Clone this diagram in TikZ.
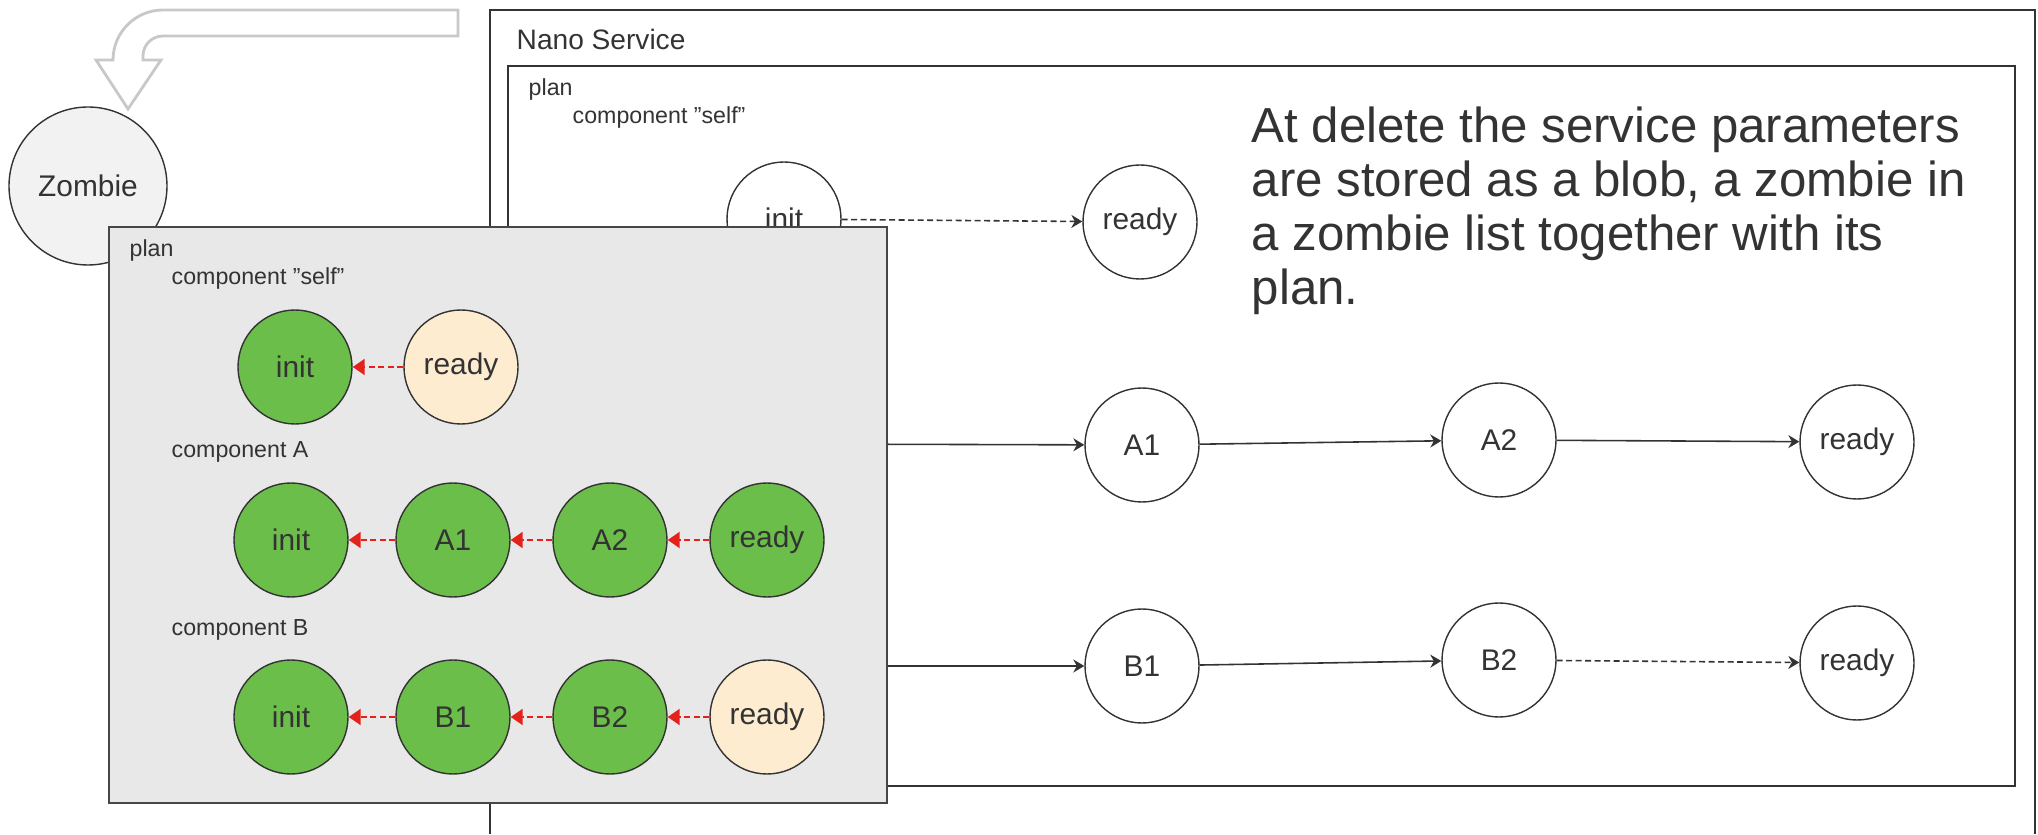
\documentclass[tikz,border=0pt]{standalone}
\usepackage{fontspec}
\setmainfont{Liberation Sans}
\usepackage{xcolor}
\usepackage{tikz}
\usetikzlibrary{shapes,arrows,positioning,calc,arrows.meta}

\definecolor{txtgray}{HTML}{333333}
\definecolor{donegreen}{HTML}{6CBE4A}
\definecolor{waitbeige}{HTML}{FDECD0}
\definecolor{zplanfill}{HTML}{E8E8E8}
\definecolor{zombiefill}{HTML}{F2F2F2}
\definecolor{hollowgray}{HTML}{C8C8C8}
\definecolor{revred}{HTML}{E3221B}

\begin{document}
\begin{tikzpicture}[
    font=\fontsize{8.5}{10}\selectfont, text=txtgray,
    state/.style={circle, draw=txtgray, line width=0.4pt, minimum size=1.14cm, inner sep=0pt, fill=white},
    donestate/.style={state, fill=donegreen},
    waitstate/.style={state, fill=waitbeige},
    planlabel/.style={anchor=west, inner sep=0pt, font=\fontsize{6.6}{8}\selectfont},
    fwd/.style={-{Stealth[length=1.1mm,width=1.3mm]}, line width=0.45pt, draw=txtgray},
    fwddash/.style={fwd, dash pattern=on 0.6mm off 0.35mm},
    back/.style={-{Triangle[length=1.2mm,width=1.6mm]}, draw=revred, line width=0.6pt, dash pattern=on 0.6mm off 0.35mm}
]
    \useasboundingbox (0,0) rectangle (20.38,8.34);

    % nano service
    \draw[txtgray, line width=0.6pt] (4.90,0) -- (4.90,8.24) -- (20.35,8.24) -- (20.35,0);
    \node[anchor=base west, inner sep=0pt, font=\fontsize{8}{10}\selectfont] (nstitle) at (5.16,7.84) {Nano Service};
    \draw[txtgray, line width=0.6pt] (5.08,0.48) rectangle (20.15,7.68);
    \node[planlabel] (nsplan) at (5.28,7.44) {plan};
    \node[planlabel] (nsself) at (5.72,7.16) {component ”self”};

    \node[state] (init) at (7.84,6.15) {init};
    \node[state] (ready) at (11.40,6.12) {ready};
    \node[state] (initA) at (7.84,3.90) {init};
    \node[state] (A1) at (11.42,3.89) {A1};
    \node[state] (A2) at (14.99,3.94) {A2};
    \node[state] (readyA) at (18.57,3.92) {ready};
    \node[state] (initB) at (7.84,1.68) {init};
    \node[state] (B1) at (11.42,1.68) {B1};
    \node[state] (B2) at (14.99,1.74) {B2};
    \node[state] (readyB) at (18.57,1.71) {ready};

    \draw[fwddash] (init) -- (ready);
    \draw[fwd] (initA) -- (A1);
    \draw[fwd] (A1) -- (A2);
    \draw[fwd] (A2) -- (readyA);
    \draw[fwd] (initB) -- (B1);
    \draw[fwd] (B1) -- (B2);
    \draw[fwddash] (B2) -- (readyB);

    \node[anchor=north west, align=left, inner sep=0pt, font=\fontsize{14}{15.4}\selectfont] (note) at (12.51,7.28)
        {At delete the service parameters\\are stored as a blob, a zombie in\\a zombie list together with its\\plan.};

    % zombie
    \draw[hollowgray, line width=0.8pt, fill=white] (4.58,8.24) -- (1.63,8.24) arc[start angle=90, end angle=180, radius=0.5]
        -- (0.96,7.74) -- (1.28,7.25) -- (1.61,7.74) -- (1.43,7.74) -- (1.43,7.78)
        arc[start angle=180, end angle=90, radius=0.2] -- (4.58,7.98) -- cycle;
    \node[circle, draw=txtgray, line width=0.4pt, fill=zombiefill, minimum size=1.58cm, inner sep=0pt] (zombie) at (0.88,6.48) {Zombie};

    \draw[draw=txtgray!90, line width=0.6pt, fill=zplanfill] (1.09,0.31) rectangle (8.87,6.07);
    \node[planlabel] (zplan) at (1.29,5.83) {plan};
    \node[planlabel] (zself) at (1.71,5.55) {component ”self”};
    \node[donestate] (zinit) at (2.95,4.67) {init};
    \node[waitstate] (zready) at (4.61,4.67) {ready};
    \node[planlabel] (zcompA) at (1.71,3.82) {component A};
    \node[donestate] (zinitA) at (2.91,2.94) {init};
    \node[donestate] (zA1) at (4.53,2.94) {A1};
    \node[donestate] (zA2) at (6.10,2.94) {A2};
    \node[donestate] (zreadyA) at (7.67,2.94) {ready};
    \node[planlabel] (zcompB) at (1.71,2.04) {component B};
    \node[donestate] (zinitB) at (2.91,1.17) {init};
    \node[donestate] (zB1) at (4.53,1.17) {B1};
    \node[donestate] (zB2) at (6.10,1.17) {B2};
    \node[waitstate] (zreadyB) at (7.67,1.17) {ready};

    \draw[back] (zready) -- (zinit);
    \draw[back] (zreadyA) -- (zA2);
    \draw[back] (zA2) -- (zA1);
    \draw[back] (zA1) -- (zinitA);
    \draw[back] (zreadyB) -- (zB2);
    \draw[back] (zB2) -- (zB1);
    \draw[back] (zB1) -- (zinitB);
\end{tikzpicture}
\end{document}
